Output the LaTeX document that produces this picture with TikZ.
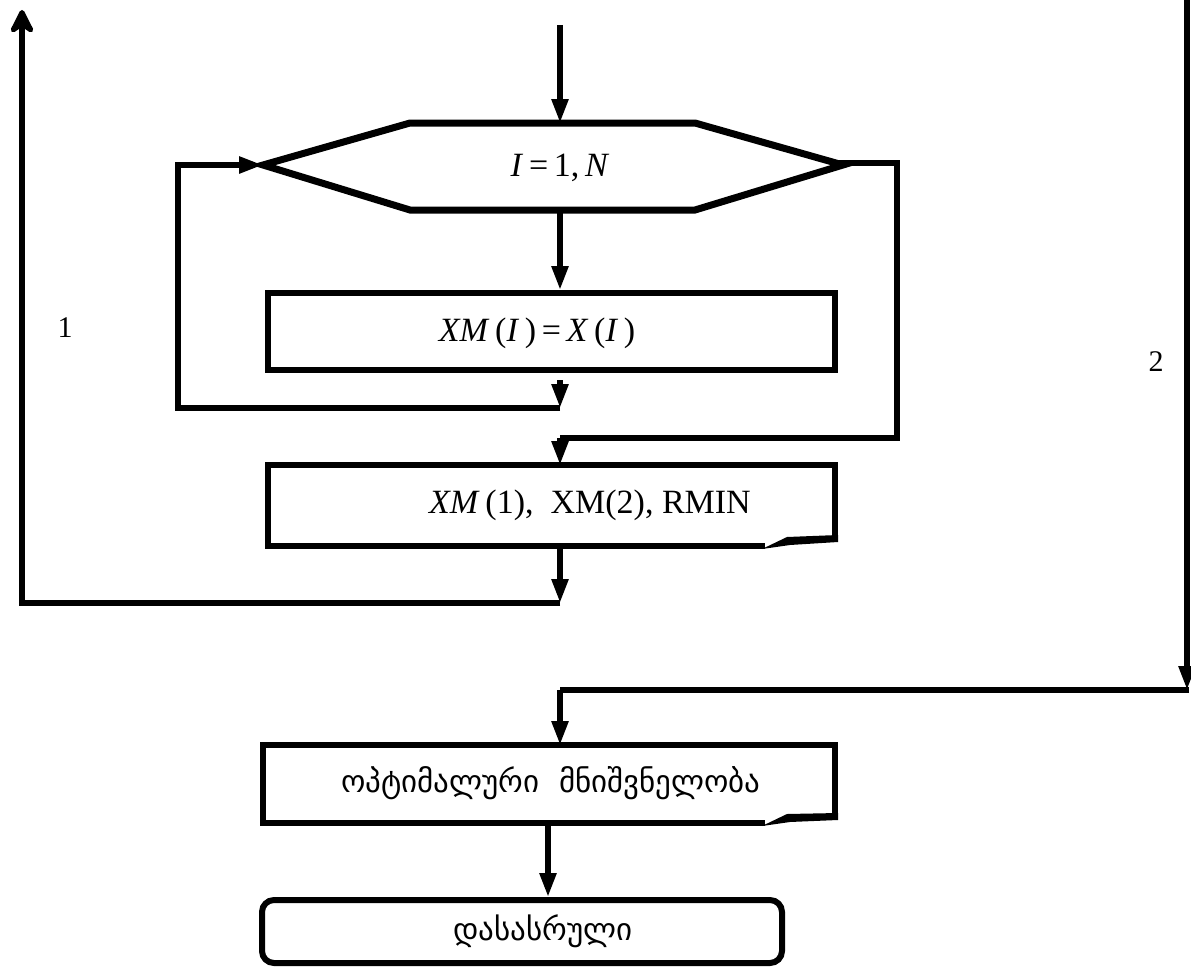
\documentclass[tikz,border=0pt]{standalone}
\usepackage{fontspec}
\setmainfont{Liberation Serif}
\newfontfamily\geo{DejaVu Sans}
\usetikzlibrary{arrows.meta}
\begin{document}
\begin{tikzpicture}[x=1pt,y=-1pt,
  ln/.style={line width=5.5pt,line join=miter},
  arr/.style={ln,-{Triangle[length=24pt,width=16pt]}},
  uparr/.style={ln,-{Stealth[length=30pt,width=30pt,inset=10pt,round]}},
  procbox/.style={draw,line width=6pt,minimum width=567pt,minimum height=77pt,inner sep=0pt},
  termbox/.style={draw,line width=6pt,rounded corners=12pt,minimum width=520pt,minimum height=63pt,inner sep=0pt},
  txt/.style={font=\fontsize{34}{38}\selectfont,inner sep=0pt},
  gtxt/.style={font=\geo\fontsize{31}{36}\selectfont,inner sep=0pt},
  lbl/.style={font=\fontsize{30}{34}\selectfont,inner sep=0pt}]
\useasboundingbox (0,0) rectangle (1191,974);
% hexagon (loop)
\coordinate (hl) at (263,165);
\coordinate (hr) at (843,165);
\coordinate (ht) at (560,123);
\coordinate (hb) at (560,210);
\draw[line width=7pt,line join=miter] (hl) -- (410,123) -- (695,123) -- (hr) -- (695,210) -- (410,210) -- cycle;
\node[txt] (hex) at (560,168) {\textit{I}\,=\,1,\,\textit{N}};
% process box
\node[procbox] (b1) at (551.5,331.5) {};
\node[txt] (b1t) at (537,333) {\textit{XM}\,(\textit{I}\,)\,=\,\textit{X}\,(\textit{I}\,)};
% print box 1
\coordinate (p1t) at (560,465);
\draw[ln] (765,546) -- (268,546) -- (268,465) -- (835,465) -- (835,539);
\fill (762,549) -- (787,537) -- (838,535) -- (838,542) -- (790,545) -- cycle;
\node[txt] (p1) at (590,505) {\textit{XM}\,(1),\ \ XM(2), RMIN};
\coordinate (p1b) at (560,546);
% print box 2
\coordinate (p2t) at (560,745);
\draw[ln] (765,823) -- (263,823) -- (263,745) -- (835,745) -- (835,817);
\fill (762,826) -- (787,814) -- (838,813) -- (838,820) -- (790,822) -- cycle;
\node[gtxt] (p2) at (551,783) {ოპტიმალური\ \ მნიშვნელობა};
\coordinate (p2b) at (548,823);
% terminator
\node[termbox] (end) at (522,931.5) {};
\node[gtxt] (endt) at (543,931) {დასასრული};
% connectors
\coordinate (top) at (560,25);
\draw[arr] (top) -- (ht);
\draw[arr] (hb) -- (b1.north -| hb);
\coordinate (j1) at (560,408);
\draw[arr] (b1.south -| j1) ++(0,7) -- (j1);
\draw[arr] (j1) -- (178,408) -- (178,165) -- (hl);
\coordinate (j2) at (560,438);
\draw[ln] (hr) ++(-4,-2) -- (897,163) -- (897,438) -- (j2);
\draw[arr] (j2) -- (p1t);
\coordinate (j3) at (560,603);
\draw[arr] (p1b) -- (j3);
\coordinate (tl) at (22,10);
\draw[uparr] (j3) -- (22,603) -- (tl);
\coordinate (rt) at (1187,-5);
\coordinate (rb) at (1187,690);
\draw[arr] (rt) -- (rb);
\coordinate (j4) at (560,690);
\draw[ln] (1189,690) -- (j4);
\draw[arr] (j4) -- (p2t);
\draw[arr] (p2b) -- (end.north -| p2b);
% labels
\node[lbl] (l1) at (65,328) {1};
\node[lbl] (l2) at (1156,362) {2};
\end{tikzpicture}
\end{document}
